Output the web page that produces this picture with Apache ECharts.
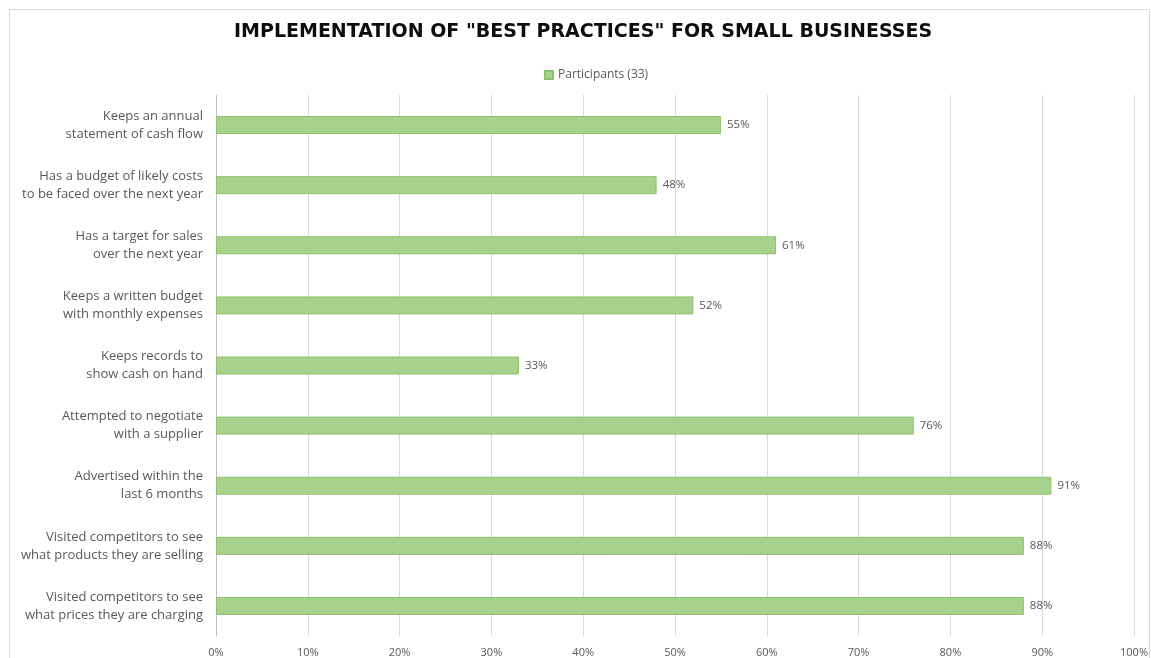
<!DOCTYPE html>
<html>
<head>
<meta charset="utf-8">
<script src="https://cdn.jsdelivr.net/npm/echarts@6/dist/echarts.min.js"></script>
<style>
  html, body { margin: 0; padding: 0; background: #ffffff; }
  #chart { width: 1151px; height: 658px; }
</style>
</head>
<body>
<div id="chart"></div>
<script>
// Survey practices, listed top to bottom
const categories = [
  'Keeps an annual\nstatement of cash flow',
  'Has a budget of likely costs\nto be faced over the next year',
  'Has a target for sales\nover the next year',
  'Keeps a written budget\nwith monthly expenses',
  'Keeps records to\nshow cash on hand',
  'Attempted to negotiate\nwith a supplier',
  'Advertised within the\nlast 6 months',
  'Visited competitors to see\nwhat products they are selling',
  'Visited competitors to see\nwhat prices they are charging'
];

// Share of participants (percent)
const participants = [55, 48, 61, 52, 33, 76, 91, 88, 88];

const seriesName = 'Participants (33)';
const chartTitle = 'IMPLEMENTATION OF "BEST PRACTICES" FOR SMALL BUSINESSES';

const chart = echarts.init(document.getElementById('chart'), null, { renderer: 'canvas' });

chart.setOption({
  animation: false,
  backgroundColor: '#ffffff',
  title: {
    text: chartTitle,
    left: 229,
    top: 18,
    textStyle: {
      fontFamily: 'DejaVu Sans',
      fontWeight: 'bold',
      fontSize: 19,
      color: '#0d0d0d'
    }
  },
  legend: {
    top: 64,
    left: 539,
    itemWidth: 8,
    itemHeight: 8,
    icon: 'rect',
    itemGap: 4,
    textStyle: { fontFamily: 'Open Sans', fontSize: 12, color: '#595959' },
    data: [seriesName]
  },
  grid: {
    left: 216,
    right: 16,
    top: 95,
    bottom: 19,
    containLabel: false
  },
  xAxis: {
    type: 'value',
    min: 0,
    max: 100,
    interval: 10,
    axisLine: { show: false },
    axisTick: { show: false },
    splitLine: { show: true, lineStyle: { color: '#d9d9d9', width: 1 } },
    axisLabel: {
      formatter: '{value}%',
      fontFamily: 'Open Sans',
      fontSize: 11,
      color: '#595959',
      margin: 11
    }
  },
  yAxis: {
    type: 'category',
    inverse: true,
    data: categories,
    axisLine: { show: true, lineStyle: { color: '#bfbfbf', width: 1 } },
    axisTick: { show: false },
    axisLabel: {
      fontFamily: 'Open Sans',
      fontSize: 13,
      lineHeight: 18,
      color: '#595959',
      align: 'right',
      margin: 13
    }
  },
  series: [{
    name: seriesName,
    type: 'bar',
    data: participants,
    barWidth: 18,
    itemStyle: {
      color: '#a9d18e',
      borderColor: '#8cc26c',
      borderWidth: 1
    },
    label: {
      show: true,
      position: 'right',
      distance: 6,
      formatter: '{c}%',
      fontFamily: 'Open Sans',
      fontSize: 11.5,
      color: '#595959'
    }
  }],
  graphic: [{
    type: 'rect',
    left: 7,
    top: 7,
    shape: { width: 1140, height: 660 },
    style: { fill: 'none', stroke: '#d9d9d9', lineWidth: 1 },
    silent: true
  }]
});
</script>
</body>
</html>
